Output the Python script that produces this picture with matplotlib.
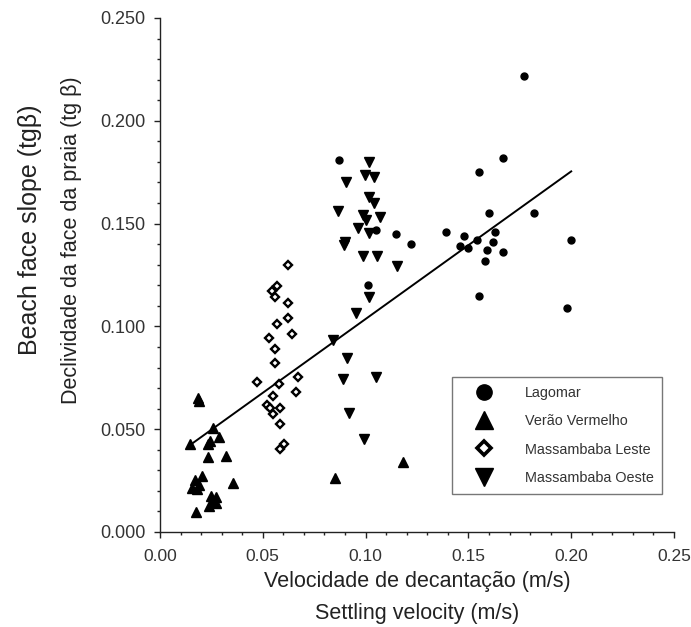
import matplotlib.pyplot as plt
from matplotlib.lines import Line2D
from matplotlib.ticker import MultipleLocator, FormatStrFormatter
import numpy as np

plt.rcParams["font.family"] = ["Liberation Sans", "DejaVu Sans"]

# Velocidade de decantação (m/s) x declividade da face da praia, por praia
lagomar_x = [0.177, 0.167, 0.155, 0.160, 0.182, 0.139, 0.148, 0.163, 0.154, 0.146, 0.150, 0.162,
             0.159, 0.167, 0.158, 0.200, 0.155, 0.198, 0.087, 0.105, 0.115, 0.122, 0.101]
lagomar_y = [0.222, 0.182, 0.175, 0.155, 0.155, 0.146, 0.144, 0.146, 0.142, 0.139, 0.138, 0.141,
             0.137, 0.136, 0.132, 0.142, 0.115, 0.109, 0.181, 0.147, 0.145, 0.140, 0.120]

verao_x = [0.0186, 0.0190, 0.0259, 0.0146, 0.0289, 0.0243, 0.0232, 0.0235, 0.0321, 0.0206, 0.0170, 0.0191,
           0.0154, 0.0178, 0.0354, 0.0248, 0.0272, 0.0259, 0.0240, 0.0272, 0.0173, 0.1180, 0.0851]
verao_y = [0.0653, 0.0639, 0.0504, 0.0427, 0.0461, 0.0444, 0.0427, 0.0363, 0.0370, 0.0272, 0.0253, 0.0229,
           0.0212, 0.0208, 0.0240, 0.0175, 0.0172, 0.0152, 0.0126, 0.0140, 0.0099, 0.0339, 0.0261]

leste_x = [0.0621, 0.0567, 0.0543, 0.0559, 0.0624, 0.0621, 0.0567, 0.0640, 0.0532, 0.0559, 0.0559, 0.0473,
           0.0670, 0.0577, 0.0551, 0.0661, 0.0522, 0.0535, 0.0584, 0.0548, 0.0584, 0.0605, 0.0582]
leste_y = [0.1300, 0.1197, 0.1174, 0.1141, 0.1112, 0.1039, 0.1012, 0.0963, 0.0942, 0.0890, 0.0821, 0.0731,
           0.0752, 0.0720, 0.0663, 0.0679, 0.0618, 0.0602, 0.0602, 0.0574, 0.0525, 0.0428, 0.0405]

oeste_x = [0.1018, 0.0997, 0.1041, 0.0905, 0.1018, 0.1041, 0.0867, 0.0986, 0.1070, 0.1002, 0.0965, 0.1018,
           0.0900, 0.0895, 0.0989, 0.1057, 0.1154, 0.1018, 0.0953, 0.0843, 0.0908, 0.0892, 0.1051, 0.0921,
           0.0992]
oeste_y = [0.1801, 0.1736, 0.1725, 0.1704, 0.1628, 0.1602, 0.1561, 0.1542, 0.1534, 0.1518, 0.1477, 0.1456,
           0.1412, 0.1396, 0.1342, 0.1342, 0.1294, 0.1145, 0.1064, 0.0934, 0.0845, 0.0743, 0.0756, 0.0577,
           0.0451]

# reta de regressão (todas as praias)
coef_angular = 0.718
coef_linear = 0.0318

fig = plt.figure(figsize=(6.91, 6.27), dpi=100)
ax = fig.add_axes([160 / 691, 1 - 532 / 627, 514 / 691, 514 / 627])

todos_x = np.concatenate([lagomar_x, verao_x, leste_x, oeste_x])
reta_x = np.array([todos_x.min(), todos_x.max()])
ax.plot(reta_x, coef_linear + coef_angular * reta_x, color="black", lw=1.4, zorder=2)

ax.plot(lagomar_x, lagomar_y, "o", color="black", ms=5, zorder=3)
ax.plot(verao_x, verao_y, "^", color="black", ms=7.3, zorder=3)
ax.plot(leste_x, leste_y, "D", mfc="white", mec="black", mew=1.7, ms=4.3, zorder=3)
ax.plot(oeste_x, oeste_y, "v", color="black", ms=7.3, zorder=3)

ax.set_xlim(0, 0.25)
ax.set_ylim(0, 0.25)
ax.xaxis.set_major_locator(MultipleLocator(0.05))
ax.xaxis.set_minor_locator(MultipleLocator(0.01))
ax.yaxis.set_major_locator(MultipleLocator(0.05))
ax.yaxis.set_minor_locator(MultipleLocator(0.01))
ax.xaxis.set_major_formatter(FormatStrFormatter("%.2f"))
ax.yaxis.set_major_formatter(FormatStrFormatter("%.3f"))

for lado in ["top", "right"]:
    ax.spines[lado].set_visible(False)
for lado in ["left", "bottom"]:
    ax.spines[lado].set_color("#222222")
    ax.spines[lado].set_linewidth(1.0)

ax.tick_params(which="major", direction="out", length=4.5, width=1.0, color="#222222",
               labelsize=12.5, labelcolor="#333333")
ax.tick_params(which="minor", direction="out", length=2.5, width=1.0, color="#222222")
ax.tick_params(axis="x", which="major", pad=8)
ax.tick_params(axis="y", which="major", pad=6, labelsize=13)

# rótulos dos eixos (português e inglês)
fig.text(417 / 691, 1 - 582 / 627, "Velocidade de decantação (m/s)", ha="center", va="center",
         fontsize=15.5, color="#222222")
fig.text(417 / 691, 1 - 614 / 627, "Settling velocity (m/s)", ha="center", va="center",
         fontsize=15.5, color="#222222")
fig.text(30 / 691, 1 - 230 / 627, "Beach face slope (tgβ)", ha="center", va="center",
         rotation=90, fontsize=18, color="#222222")
fig.text(72 / 691, 1 - 240 / 627, "Declividade da face da praia (tg β)", ha="center", va="center",
         rotation=90, fontsize=15.5, color="#222222")

handles = [
    Line2D([], [], ls="none", marker="o", color="black", ms=11),
    Line2D([], [], ls="none", marker="^", color="black", ms=13),
    Line2D([], [], ls="none", marker="D", mfc="white", mec="black", mew=2.6, ms=7.5),
    Line2D([], [], ls="none", marker="v", color="black", ms=13),
]
nomes = ["Lagomar", "Verão Vermelho", "Massambaba Leste", "Massambaba Oeste"]
leg = ax.legend(handles, nomes, loc="upper left", bbox_to_anchor=(0.568, 0.3016), borderaxespad=0,
                fontsize=10.4, frameon=True, fancybox=False, borderpad=0.6, handlelength=3.2,
                handletextpad=1.25, labelspacing=1.0, labelcolor="#333333")
leg.get_frame().set_edgecolor("#555555")
leg.get_frame().set_linewidth(1.0)

plt.savefig("out.png", dpi=100)
